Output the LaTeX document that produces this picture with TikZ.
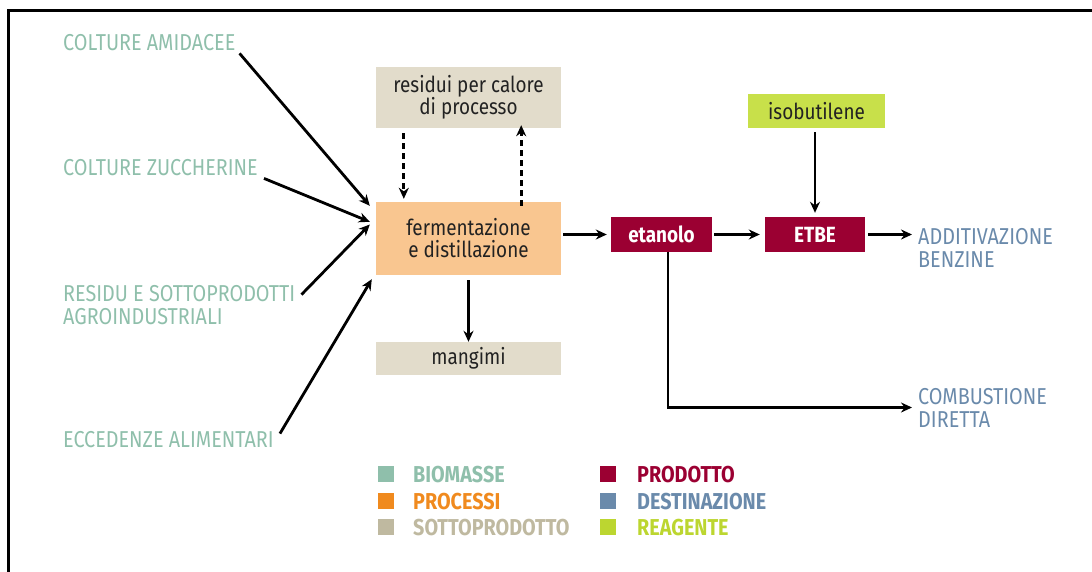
\documentclass[tikz,border=0pt]{standalone}
\usepackage{fontspec}
\setmainfont[FakeStretch=0.86]{Fira Sans}
\usetikzlibrary{arrows.meta}
\definecolor{bio}{HTML}{8FBFAB}
\definecolor{proc}{HTML}{F08A1E}
\definecolor{procfill}{HTML}{F9C690}
\definecolor{sott}{HTML}{BFB9A0}
\definecolor{sottfill}{HTML}{E2DCCB}
\definecolor{prod}{HTML}{9B0032}
\definecolor{dest}{HTML}{6A8AAB}
\definecolor{reag}{HTML}{BCD630}
\definecolor{reagfill}{HTML}{C8E04A}
\definecolor{txt}{HTML}{222222}
\tikzset{
  arr/.style={line width=2.8pt,-{Stealth[length=11pt,width=10pt]}},
  darr/.style={arr,dash pattern=on 6pt off 4pt},
  lbl/.style={font=\fontsize{23}{23}\selectfont,anchor=west,align=left,inner sep=0pt},
  boxtxt/.style={font=\fontsize{22}{22}\selectfont,text=txt,align=center,inner sep=0pt},
  subbox/.style={boxtxt,fill=sottfill},
  prodbox/.style={font=\fontsize{22}{22}\selectfont\bfseries,text=white,fill=prod,inner sep=0pt,minimum height=35pt},
  legsq/.style={minimum size=16pt,inner sep=0pt},
  legtxt/.style={font=\fontsize{23}{23}\selectfont\bfseries,anchor=west,inner sep=0pt},
}
\begin{document}
\begin{tikzpicture}[x=1pt,y=-1pt]
\useasboundingbox (0,0) rectangle (1092,572);
\draw[line width=3pt] (1092,11) -- (8,11) -- (8,572);
% labels
\node[lbl,text=bio] (ca) at (63,43) {COLTURE AMIDACEE};
\node[lbl,text=bio] (cz) at (63,168) {COLTURE ZUCCHERINE};
\node[lbl,text=bio] (rs) at (63,305.5) {RESIDU E SOTTOPRODOTTI\\AGROINDUSTRIALI};
\node[lbl,text=bio] (ec) at (63,440) {ECCEDENZE ALIMENTARI};
% boxes
\node[subbox,minimum width=185pt,minimum height=61pt] (res) at (468.5,97.5) {residui per calore\\di processo};
\node[boxtxt,fill=procfill,minimum width=185pt,minimum height=73pt] (fer) at (468.5,238.5) {fermentazione\\e distillazione};
\node[subbox,minimum width=185pt,minimum height=33pt] (man) at (468.5,358.5) {mangimi};
\node[prodbox,minimum width=101pt] (eta) at (661.5,234.5) {etanolo};
\node[prodbox,minimum width=100pt] (etbe) at (815,234.5) {ETBE};
\node[boxtxt,fill=reagfill,minimum width=137pt,minimum height=34pt] (iso) at (816.5,111) {isobutilene};
\node[lbl,text=dest] (add) at (918,247.5) {ADDITIVAZIONE\\BENZINE};
\node[lbl,text=dest] (com) at (918,407.5) {COMBUSTIONE\\DIRETTA};
% arrows
\draw[arr] ([xshift=4pt,yshift=-2pt]ca.south east) -- ([xshift=-6pt,yshift=-4pt]fer.north west);
\draw[arr] ([xshift=6pt,yshift=-2pt]cz.south east) -- ([xshift=-6pt,yshift=-20pt]fer.north west);
\draw[arr] ([xshift=6pt,yshift=-9pt]rs.north east) -- ([xshift=-6pt,yshift=14pt]fer.west);
\draw[arr] ([xshift=6pt,yshift=-2pt]ec.north east) -- ([xshift=-4pt,yshift=-4pt]fer.south west);
\draw[darr] ([xshift=28pt,yshift=-5pt]res.south west) -- ([xshift=28pt,yshift=3pt]fer.north west);
\draw[darr] ([xshift=-40pt,yshift=-4pt]fer.north east) -- ([xshift=-40pt,yshift=3pt]res.south east);
\draw[arr] ([yshift=-5pt]fer.south) -- (man.north);
\draw[arr] ([xshift=2pt]fer.east|-eta.west) -- ([xshift=-4pt]eta.west);
\draw[arr] ([xshift=2pt]eta.east) -- ([xshift=-5pt]etbe.west);
\draw[arr] ([xshift=3pt]etbe.east) -- ([xshift=-6pt]add.west|-etbe.east);
\draw[arr] ([yshift=-4pt]iso.south-|etbe.north) -- ([yshift=4pt]etbe.north);
\draw[arr] ([xshift=6.5pt]eta.south) |- ([xshift=-6pt]com.west);
% legend
\node[legsq,fill=bio] (l1) at (386,474) {};
\node[legtxt,text=bio] (t1) at (413,475) {BIOMASSE};
\node[legsq,fill=proc] (l2) at (386,501) {};
\node[legtxt,text=proc] (t2) at (413,502) {PROCESSI};
\node[legsq,fill=sott] (l3) at (386,527) {};
\node[legtxt,text=sott] (t3) at (413,528) {SOTTOPRODOTTO};
\node[legsq,fill=prod] (l4) at (608,474) {};
\node[legtxt,text=prod] (t4) at (637,475) {PRODOTTO};
\node[legsq,fill=dest] (l5) at (608,501) {};
\node[legtxt,text=dest] (t5) at (637,502) {DESTINAZIONE};
\node[legsq,fill=reag] (l6) at (608,527) {};
\node[legtxt,text=reag] (t6) at (637,528) {REAGENTE};
\end{tikzpicture}
\end{document}
